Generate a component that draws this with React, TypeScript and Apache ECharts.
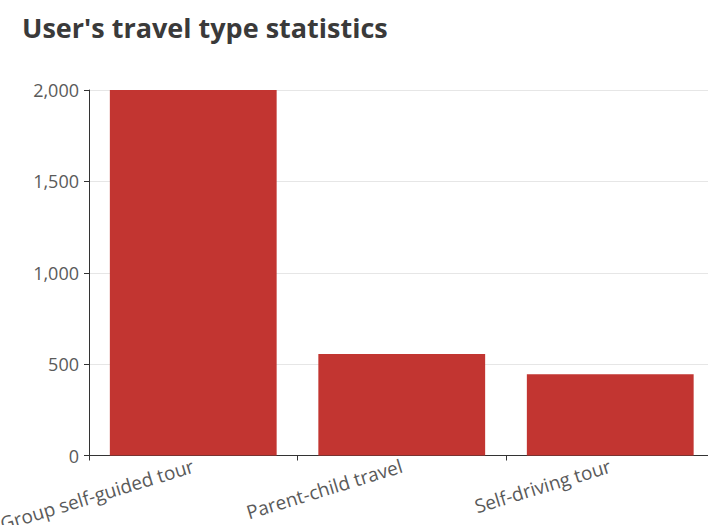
import React, { useEffect, useRef } from "react";
import * as echarts from "echarts";

const categories = ["Group self-guided tour", "Parent-child travel", "Self-driving tour"];
const values = [2000, 555, 444];
const yTicks = [0, 500, 1000, 1500, 2000];

export default function App() {
  const ref = useRef<HTMLDivElement>(null);
  useEffect(() => {
    if (!ref.current) return;
    const chart = echarts.init(ref.current, undefined, { renderer: "svg" });
    chart.setOption({
      animation: false,
      backgroundColor: "#ffffff",
      title: {
        text: "User's travel type statistics",
        left: 17,
        top: 9,
        textStyle: {
          fontFamily: "Open Sans",
          fontWeight: "bold",
          fontSize: 27,
          color: "#3a3a3a",
        },
      },
      grid: {
        left: 89,
        top: 90,
        width: 625.5,
        height: 365.5,
        containLabel: false,
        outerBoundsMode: "none",
      },
      xAxis: {
        type: "category",
        data: categories,
        axisLine: { lineStyle: { color: "#333333" } },
        axisTick: { show: true, alignWithLabel: false, lineStyle: { color: "#333333" } },
        axisLabel: {
          rotate: 17,
          interval: 0,
          fontSize: 19,
          fontFamily: "Open Sans",
          color: "#5a5a5a",
          margin: 10,
        },
      },
      yAxis: {
        type: "value",
        min: yTicks[0],
        max: yTicks[yTicks.length - 1],
        interval: 500,
        axisLine: { show: true, lineStyle: { color: "#333333" } },
        axisTick: { show: true, lineStyle: { color: "#333333" } },
        axisLabel: {
          fontSize: 18,
          fontFamily: "Open Sans",
          color: "#5a5a5a",
          margin: 10,
          formatter: (v: number) => v.toLocaleString("en-US"),
        },
        splitLine: { lineStyle: { color: "#e6e6e6" } },
      },
      series: [
        {
          type: "bar",
          data: values,
          barCategoryGap: "20%",
          itemStyle: { color: "#c23531" },
        },
      ],
    });
    return () => chart.dispose();
  }, []);
  return (
    <div style={{ position: "fixed", left: 0, top: 0, width: 708, height: 525, overflow: "hidden", background: "#fff" }}>
      <div ref={ref} style={{ width: 730, height: 525 }} />
    </div>
  );
}
